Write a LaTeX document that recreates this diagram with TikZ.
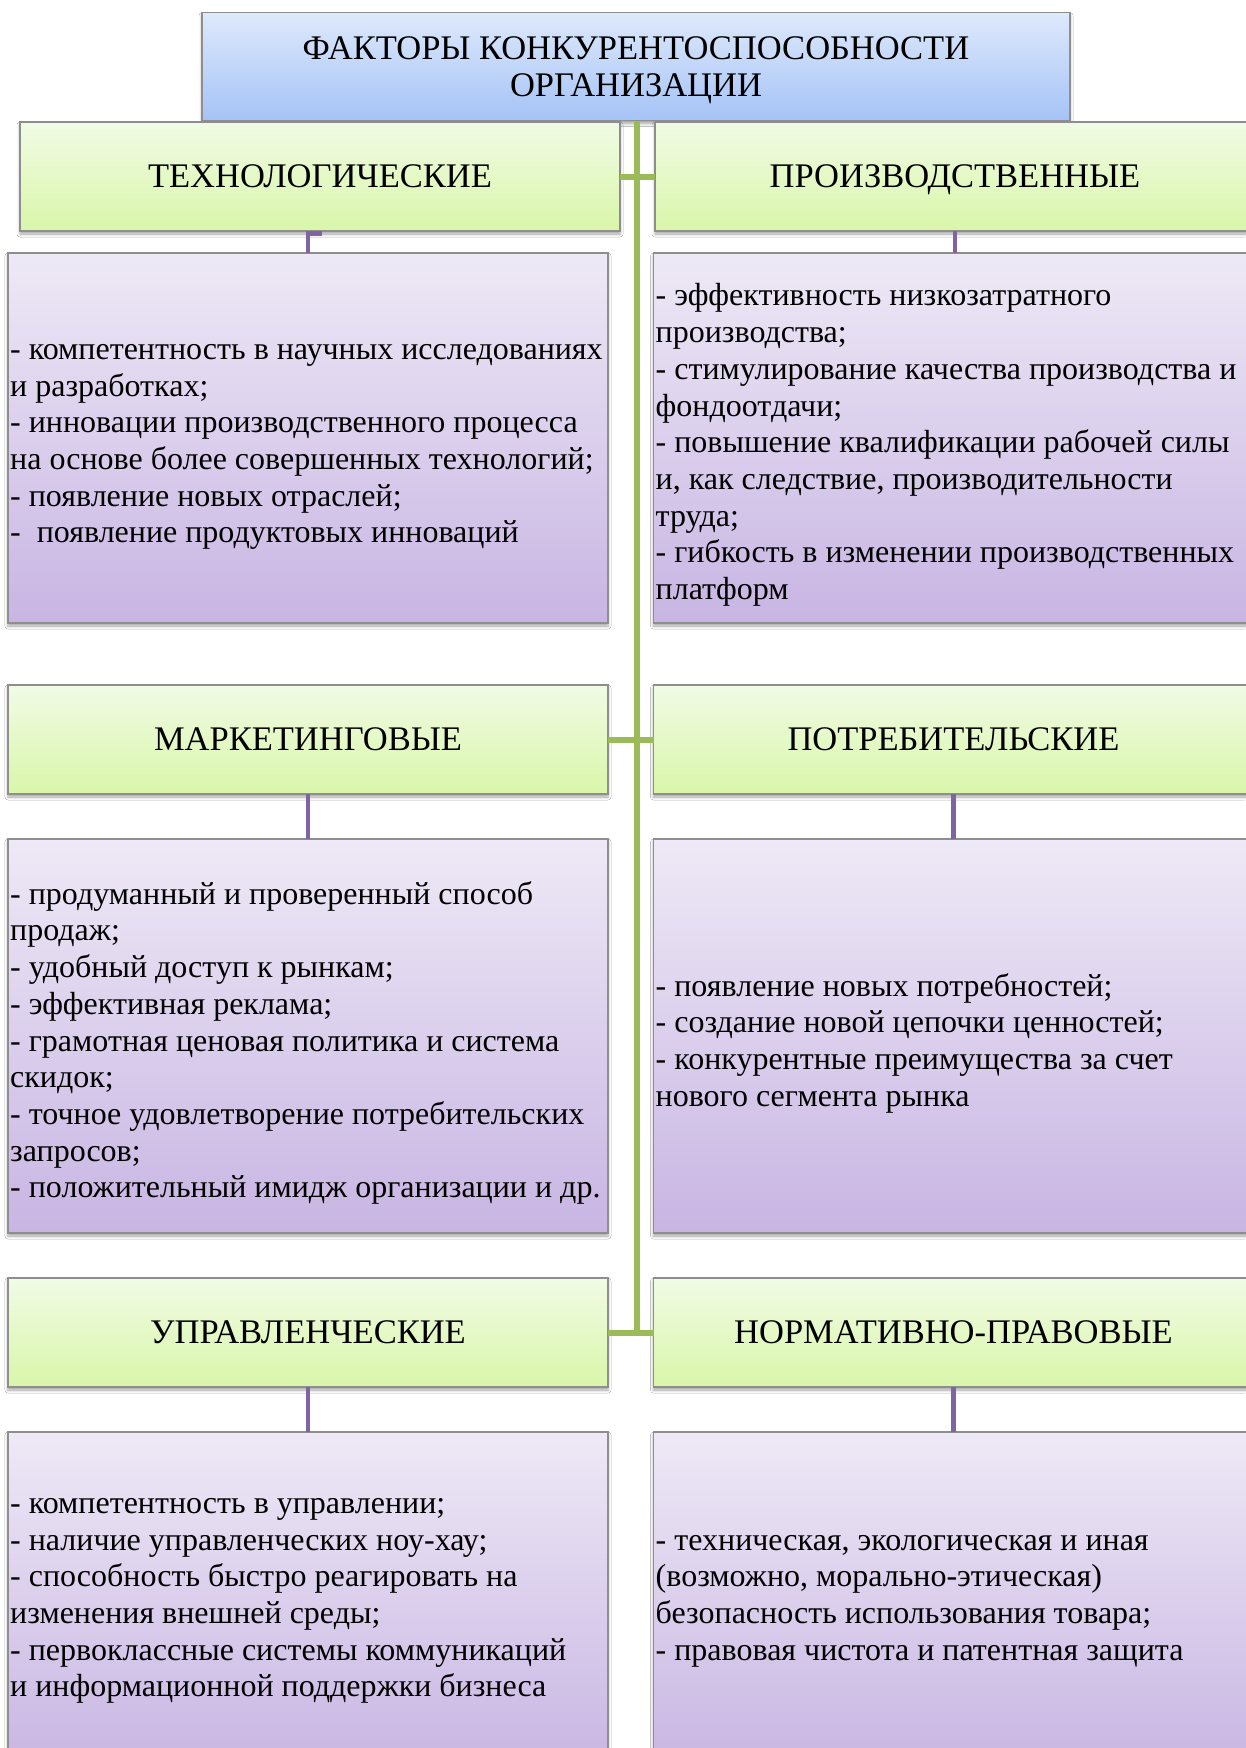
\documentclass[tikz,border=0pt]{standalone}
\usepackage{fontspec}
\setmainfont{Liberation Serif}
\usetikzlibrary{shadows.blur,calc}

\definecolor{trunk}{HTML}{9BBB59}
\definecolor{twigc}{HTML}{8064A2}
\definecolor{edgec}{HTML}{8E8E8E}
\definecolor{topA}{HTML}{DEE9FC}
\definecolor{topB}{HTML}{A5C3F6}
\definecolor{greenA}{HTML}{F1FBE5}
\definecolor{greenB}{HTML}{D9F6A9}
\definecolor{purpA}{HTML}{EEE9F6}
\definecolor{purpB}{HTML}{C8B5E3}

\newcommand{\headfont}{\fontsize{34.5}{36.5}\selectfont}
\newcommand{\listfont}{\fontsize{32}{36.7}\selectfont}

\begin{document}
\begin{tikzpicture}[x=1pt,y=-1pt,
  box/.style={draw=edgec, line width=1.3pt, anchor=north west,
    inner sep=0pt, outer sep=0pt,
    blur shadow={shadow xshift=0pt, shadow yshift=-3pt,
      shadow blur radius=3pt, shadow opacity=35}},
  titlebox/.style={box, top color=topA, bottom color=topB,
    minimum width=868pt, minimum height=108pt, align=center,
    font=\headfont, text depth=0pt},
  headbox/.style={box, top color=greenA, bottom color=greenB,
    minimum width=600pt, minimum height=109pt,
    font=\headfont, text height=22.8pt, text depth=0pt},
  listbox/.style={box, top color=purpA, bottom color=purpB,
    minimum width=600pt},
  listtext/.style={anchor=west, align=left, inner sep=0pt, font=\listfont},
  trunkline/.style={draw=trunk, line width=6pt},
  twigline/.style={draw=twigc, line width=4.5pt}
]
\fill[white] (0,0) rectangle (1245,1748);
\useasboundingbox (0,0) rectangle (1245,1748);

% heading
\node[titlebox] (title) at (202,12.7) {ФАКТОРЫ КОНКУРЕНТОСПОСОБНОСТИ\\ОРГАНИЗАЦИИ};

% group headers
\node[headbox] (tech) at (20,122)    {ТЕХНОЛОГИЧЕСКИЕ};
\node[headbox] (prod) at (655,122)   {ПРОИЗВОДСТВЕННЫЕ};
\node[headbox] (mark) at (8,685)     {МАРКЕТИНГОВЫЕ};
\node[headbox] (cons) at (653.5,685) {ПОТРЕБИТЕЛЬСКИЕ};
\node[headbox] (mgmt) at (8,1278)    {УПРАВЛЕНЧЕСКИЕ};
\node[headbox] (law)  at (653.5,1278){НОРМАТИВНО-ПРАВОВЫЕ};

% boxes for the lists of factors
\node[listbox, minimum height=370pt] (techbox) at (8,253) {};
\node[listbox, minimum height=370pt] (prodbox) at (653.5,253) {};
\node[listbox, minimum height=394pt] (markbox) at (8,839) {};
\node[listbox, minimum height=394pt] (consbox) at (653.5,839) {};
\node[listbox, minimum height=338pt] (mgmtbox) at (8,1432) {};
\node[listbox, minimum height=338pt] (lawbox)  at (653.5,1432) {};

% the lists themselves
\node[listtext] (techlist) at ([xshift=2pt,yshift=-9pt]techbox.west) {%
- компетентность в научных исследованиях\\
и разработках;\\
- инновации производственного процесса\\
на основе более совершенных технологий;\\
- появление новых отраслей;\\
-~~появление продуктовых инноваций};

\node[listtext] (prodlist) at ([xshift=2pt,yshift=-7pt]prodbox.west) {%
- эффективность низкозатратного\\
производства;\\
- стимулирование качества производства и\\
фондоотдачи;\\
- повышение квалификации рабочей силы\\
и, как следствие, производительности\\
труда;\\
- гибкость в изменении производственных\\
платформ};

\node[listtext] (marklist) at ([xshift=2pt,yshift=-7pt]markbox.west) {%
- продуманный и проверенный способ\\
продаж;\\
- удобный доступ к рынкам;\\
- эффективная реклама;\\
- грамотная ценовая политика и система\\
скидок;\\
- точное удовлетворение потребительских\\
запросов;\\
- положительный имидж организации и др.};

\node[listtext] (conslist) at ([xshift=2pt,yshift=-7pt]consbox.west) {%
- появление новых потребностей;\\
- создание новой цепочки ценностей;\\
- конкурентные преимущества за счет\\
нового сегмента рынка};

\node[listtext] (mgmtlist) at ([xshift=2pt]mgmtbox.west) {%
- компетентность в управлении;\\
- наличие управленческих ноу-хау;\\
- способность быстро реагировать на\\
изменения внешней среды;\\
- первоклассные системы коммуникаций\\
и информационной поддержки бизнеса};

\node[listtext] (lawlist) at ([xshift=2pt]lawbox.west) {%
- техническая, экологическая и иная\\
(возможно, морально-этическая)\\
безопасность использования товара;\\
- правовая чистота и патентная защита};

% green trunk with its branches
\coordinate (trunkend) at ($(title.south |- mgmt.east)+(0,2)$);
\draw[trunkline] ([xshift=1pt]title.south) -- ([xshift=1pt]trunkend);
\draw[trunkline] (tech.east) -- (prod.west);
\draw[trunkline] (mark.east) -- (cons.west);
\draw[trunkline] (mgmt.east) -- (law.west);

% purple links from headers to lists
\draw[twigline] ([xshift=2pt,yshift=-2.5pt]tech.south) -| (techbox.north);
\draw[twigline] (prod.south) -- (prod.south |- prodbox.north);
\draw[twigline] (mark.south) -- (markbox.north);
\draw[twigline] (cons.south) -- (consbox.north);
\draw[twigline] (mgmt.south) -- (mgmtbox.north);
\draw[twigline] (law.south) -- (lawbox.north);
\end{tikzpicture}
\end{document}
